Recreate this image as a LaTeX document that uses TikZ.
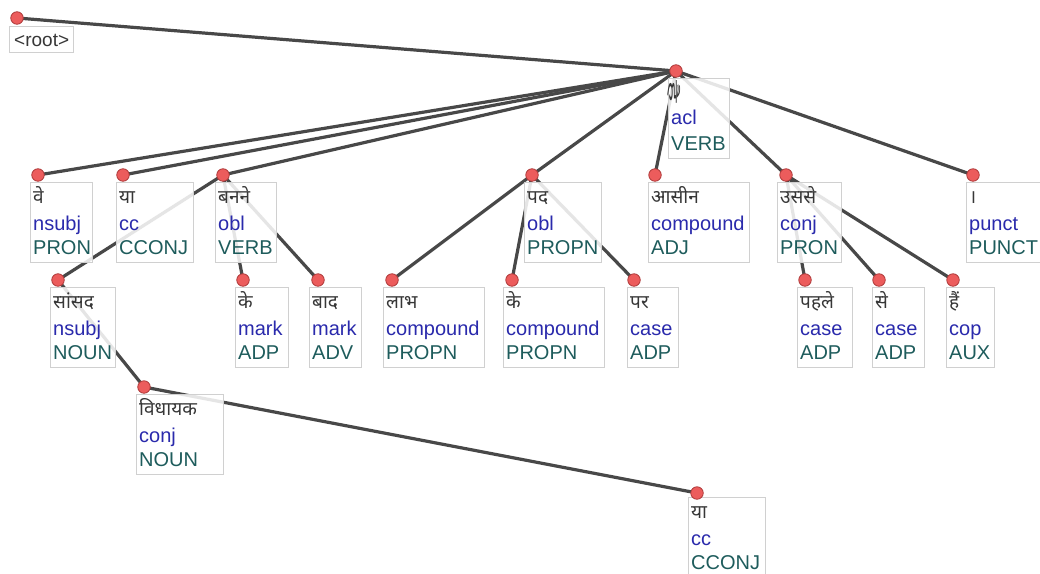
\documentclass[tikz,border=0pt]{standalone}
\usepackage{fontspec}
\setmainfont{Liberation Sans}
\newfontfamily\devfont[Script=Devanagari]{Noto Sans}
\pgfdeclarelayer{edges}
\pgfsetlayers{edges,main}
\definecolor{edgecol}{RGB}{72,72,72}
\definecolor{dotfill}{RGB}{236,92,92}
\definecolor{dotdraw}{RGB}{175,60,60}
\definecolor{relcol}{RGB}{42,42,172}
\definecolor{poscol}{RGB}{30,92,92}
\definecolor{wordcol}{RGB}{55,55,55}
\definecolor{boxcol}{RGB}{208,208,208}
\tikzset{
  edge/.style={draw=edgecol, line width=3.2pt, line cap=round},
  dot/.style={circle, fill=dotfill, draw=dotdraw, line width=0.8pt, minimum size=12.5pt, inner sep=0pt},
  tokbox/.style={draw=boxcol, line width=0.9pt, fill=white, fill opacity=0.86, inner sep=0pt, outer sep=0pt, anchor=north west},
  wordtxt/.style={text=wordcol, font=\devfont\fontsize{19}{22}\selectfont, inner sep=0pt, anchor=base west},
  reltxt/.style={text=relcol, font=\fontsize{20}{24}\selectfont, inner sep=0pt, anchor=base west},
  postxt/.style={text=poscol, font=\fontsize{20}{24}\selectfont, inner sep=0pt, anchor=base west},
}
% #1 name, #2 left, #3 top, #4 right, #5 word, #6 relation, #7 part of speech
\newcommand\deptok[7]{%
  \node[tokbox, minimum width=#4-#2, minimum height=80] (#1box) at (#2,#3) {};
  \node[wordtxt] (#1w) at (#2+3,#3+21) {#5};
  \node[reltxt] (#1r) at (#2+3,#3+48) {#6};
  \node[postxt] (#1p) at (#2+3,#3+72) {#7};
}
\begin{document}
\begin{tikzpicture}[x=1pt,y=-1pt]
\useasboundingbox (0,0) rectangle (1040,573);

% root label
\node[tokbox, minimum width=64, minimum height=26] (rootbox) at (9,26) {};
\node[text=wordcol, font=\fontsize{19}{22}\selectfont, inner sep=0pt, anchor=base west] (rootw) at (14,46) {<root>};

% head of the sentence, its word set on its side
\node[tokbox, minimum width=61, minimum height=80] (haibox) at (668,78) {};
\node[wordtxt, rotate=-90, xscale=2.2, yscale=0.65, anchor=base west] (haiw) at (669,80) {है};
\node[reltxt] (hair) at (671,124) {acl};
\node[postxt] (haip) at (671,150) {VERB};

% first row
\deptok{ve}{30}{182}{92}{वे}{nsubj}{PRON}
\deptok{ya}{116}{182}{193}{या}{cc}{CCONJ}
\deptok{banne}{215}{182}{276}{बनने}{obl}{VERB}
\deptok{pad}{524}{182}{601}{पद}{obl}{PROPN}
\deptok{asin}{648}{182}{749}{आसीन}{compound}{ADJ}
\deptok{usse}{777}{182}{841}{उससे}{conj}{PRON}
\deptok{danda}{966}{182}{1040}{।}{punct}{PUNCT}

% second row
\deptok{sansad}{50}{287}{115}{सांसद}{nsubj}{NOUN}
\deptok{ke}{235}{287}{288}{के}{mark}{ADP}
\deptok{baad}{309}{287}{361}{बाद}{mark}{ADV}
\deptok{labh}{383}{287}{484}{लाभ}{compound}{PROPN}
\deptok{keb}{503}{287}{604}{के}{compound}{PROPN}
\deptok{par}{627}{287}{678}{पर}{case}{ADP}
\deptok{pahle}{797}{287}{852}{पहले}{case}{ADP}
\deptok{se}{872}{287}{924}{से}{case}{ADP}
\deptok{hain}{946}{287}{994}{हैं}{cop}{AUX}

% lower rows
\deptok{vidhayak}{136}{394}{223}{विधायक}{conj}{NOUN}
\deptok{yab}{688}{497}{765}{या}{cc}{CCONJ}

% attachment points
\node[dot] (root) at (17,18) {};
\node[dot] (hai) at (676,71) {};
\node[dot] (d-ve) at (38,175) {};
\node[dot] (d-ya) at (123,175) {};
\node[dot] (d-banne) at (223,175) {};
\node[dot] (d-pad) at (532,175) {};
\node[dot] (d-asin) at (655,175) {};
\node[dot] (d-usse) at (786,175) {};
\node[dot] (d-danda) at (973,175) {};
\node[dot] (d-sansad) at (58,280) {};
\node[dot] (d-ke) at (243,280) {};
\node[dot] (d-baad) at (318,280) {};
\node[dot] (d-labh) at (392,280) {};
\node[dot] (d-keb) at (512,280) {};
\node[dot] (d-par) at (634,280) {};
\node[dot] (d-pahle) at (805,280) {};
\node[dot] (d-se) at (879,280) {};
\node[dot] (d-hain) at (953,280) {};
\node[dot] (d-vidhayak) at (144,387) {};
\node[dot] (d-yab) at (697,493) {};

% dependency arcs, kept beneath the boxes
\begin{pgfonlayer}{edges}
\draw[edge] (root.center) -- (hai.center);
\foreach \t in {ve,ya,banne,pad,asin,usse,danda}
  \draw[edge] (hai.center) -- (d-\t.center);
\draw[edge] (d-banne.center) -- (d-sansad.center);
\draw[edge] (d-banne.center) -- (d-ke.center);
\draw[edge] (d-banne.center) -- (d-baad.center);
\draw[edge] (d-sansad.center) -- (d-vidhayak.center);
\draw[edge] (d-vidhayak.center) -- (d-yab.center);
\foreach \t in {labh,keb,par}
  \draw[edge] (d-pad.center) -- (d-\t.center);
\foreach \t in {pahle,se,hain}
  \draw[edge] (d-usse.center) -- (d-\t.center);
\end{pgfonlayer}
\end{tikzpicture}
\end{document}
